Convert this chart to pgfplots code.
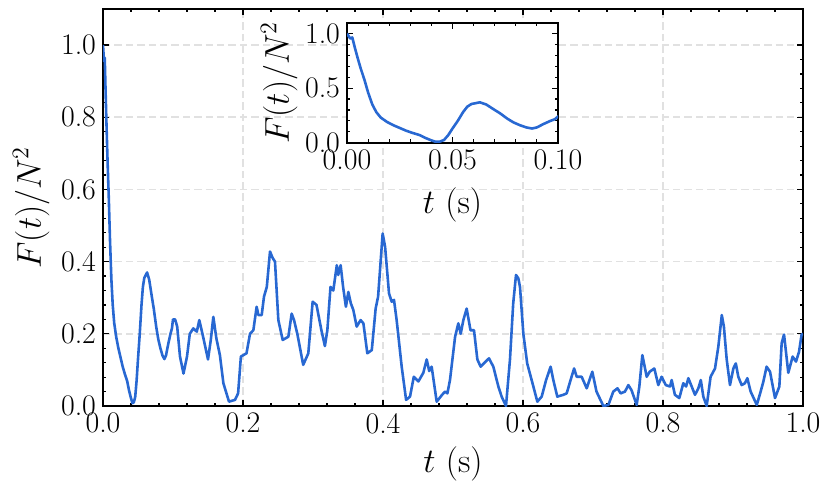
\documentclass[border=0pt]{standalone}
\usepackage{fontspec}
\usepackage{pgfplots}
\usepackage{pgfplotstable}
\pgfplotsset{compat=1.18}
\definecolor{lineblue}{RGB}{40,104,210}
\definecolor{gridgray}{RGB}{225,225,225}
\pgfplotstableread{
t y
0.0000 1.000
0.0015 0.955
0.0025 0.965
0.0036 0.880
0.0050 0.780
0.0065 0.680
0.0083 0.575
0.0100 0.460
0.0120 0.350
0.0139 0.280
0.0160 0.230
0.0190 0.190
0.0220 0.160
0.0250 0.135
0.0280 0.110
0.0310 0.090
0.0344 0.070
0.0370 0.045
0.0395 0.025
0.0420 0.008
0.0440 0.010
0.0460 0.025
0.0480 0.070
0.0500 0.130
0.0525 0.200
0.0550 0.280
0.0570 0.330
0.0590 0.355
0.0630 0.370
0.0660 0.350
0.0700 0.300
0.0725 0.270
0.0760 0.220
0.0790 0.185
0.0820 0.160
0.0850 0.140
0.0877 0.130
0.0900 0.140
0.0930 0.170
0.0964 0.200
0.0985 0.215
0.1000 0.240
0.1030 0.240
0.1060 0.220
0.1100 0.137
0.1150 0.090
0.1200 0.137
0.1240 0.200
0.1290 0.215
0.1340 0.206
0.1376 0.238
0.1430 0.192
0.1500 0.129
0.1540 0.183
0.1576 0.247
0.1620 0.187
0.1670 0.141
0.1720 0.063
0.1800 0.012
0.1886 0.017
0.1930 0.035
0.1970 0.137
0.2050 0.146
0.2100 0.200
0.2148 0.210
0.2195 0.275
0.2220 0.252
0.2267 0.252
0.2300 0.303
0.2340 0.330
0.2386 0.428
0.2424 0.410
0.2457 0.400
0.2505 0.238
0.2567 0.183
0.2648 0.192
0.2695 0.256
0.2729 0.238
0.2776 0.200
0.2860 0.114
0.2933 0.146
0.2995 0.289
0.3050 0.280
0.3120 0.210
0.3170 0.166
0.3205 0.210
0.3250 0.330
0.3290 0.320
0.3340 0.390
0.3360 0.363
0.3395 0.390
0.3430 0.330
0.3470 0.275
0.3505 0.316
0.3540 0.285
0.3576 0.266
0.3624 0.220
0.3680 0.238
0.3720 0.229
0.3776 0.146
0.3840 0.155
0.3895 0.270
0.3930 0.303
0.3995 0.478
0.4030 0.441
0.4086 0.312
0.4124 0.289
0.4157 0.294
0.4195 0.238
0.4267 0.109
0.4330 0.017
0.4386 0.026
0.4440 0.081
0.4505 0.068
0.4576 0.092
0.4624 0.129
0.4660 0.097
0.4695 0.109
0.4767 0.012
0.4840 0.030
0.4886 0.040
0.4920 0.035
0.4957 0.072
0.5030 0.192
0.5076 0.229
0.5110 0.200
0.5148 0.238
0.5195 0.270
0.5250 0.210
0.5300 0.210
0.5348 0.129
0.5395 0.109
0.5440 0.118
0.5514 0.132
0.5576 0.109
0.5648 0.054
0.5695 0.026
0.5757 0.000
0.5814 0.129
0.5860 0.284
0.5900 0.363
0.5933 0.354
0.5957 0.330
0.6005 0.200
0.6060 0.118
0.6148 0.054
0.6205 0.012
0.6267 0.026
0.6330 0.072
0.6395 0.109
0.6433 0.072
0.6490 0.026
0.6576 0.031
0.6624 0.035
0.6680 0.072
0.6730 0.104
0.6767 0.081
0.6838 0.081
0.6910 0.049
0.6990 0.095
0.7050 0.040
0.7148 0.000
0.7220 0.003
0.7290 0.040
0.7350 0.049
0.7395 0.035
0.7457 0.040
0.7505 0.058
0.7550 0.044
0.7624 0.003
0.7662 0.054
0.7705 0.141
0.7767 0.081
0.7810 0.095
0.7876 0.104
0.7933 0.058
0.7980 0.081
0.8040 0.058
0.8100 0.054
0.8124 0.072
0.8170 0.031
0.8233 0.022
0.8290 0.063
0.8330 0.054
0.8362 0.077
0.8410 0.054
0.8457 0.031
0.8505 0.049
0.8540 0.072
0.8576 0.026
0.8624 0.000
0.8680 0.081
0.8743 0.104
0.8790 0.164
0.8840 0.252
0.8870 0.220
0.8910 0.129
0.8957 0.058
0.9005 0.104
0.9040 0.118
0.9076 0.081
0.9124 0.058
0.9170 0.063
0.9205 0.077
0.9252 0.040
0.9340 0.003
0.9395 0.040
0.9433 0.067
0.9480 0.109
0.9529 0.095
0.9600 0.022
0.9662 0.054
0.9695 0.174
0.9729 0.198
0.9790 0.092
0.9852 0.137
0.9900 0.123
0.9943 0.150
0.9980 0.198
1.0000 0.200
}\datatable
\pgfplotsset{
  sciaxis/.style={
    scale only axis,
    tick align=inside,
    xtick pos=both, ytick pos=both,
    minor tick num=4,
    major tick length=3bp,
    minor tick length=1.7bp,
    every tick/.style={black, line width=0.6pt},
    axis line style={line width=0.7pt},
    tick label style={font=\fontsize{15}{17}\selectfont, /pgf/number format/assume math mode=true},
    label style={font=\fontsize{17.28}{20}\selectfont},
  }
}
\begin{document}
\begin{tikzpicture}
\begin{axis}[
  sciaxis,
  at={(0,0)}, anchor=south west,
  width=350bp, height=198.5bp,
  xmin=0, xmax=1, ymin=0, ymax=1.1,
  xtick={0,0.2,0.4,0.6,0.8,1.0},
  ytick={0,0.2,0.4,0.6,0.8,1.0},
  xticklabel style={/pgf/number format/.cd, fixed, fixed zerofill, precision=1},
  yticklabel style={/pgf/number format/.cd, fixed, fixed zerofill, precision=1},
  xmajorgrids, ymajorgrids,
  major grid style={gridgray, line width=0.8pt, dash pattern=on 3.7bp off 2bp},
  xlabel={$t$ (s)},
  ylabel={$F(t)/N^2$},
  xlabel style={yshift=0bp},
  ylabel style={yshift=-1bp},
]
\addplot[lineblue, line width=1.3pt, line join=round] table[x=t,y=y]{\datatable};
\end{axis}
\begin{axis}[
  sciaxis,
  at={(122bp,131.65bp)}, anchor=south west,
  width=105.5bp, height=60bp,
  xmin=0, xmax=0.1, ymin=0, ymax=1.1,
  xtick={0,0.05,0.1},
  ytick={0,0.5,1.0},
  xticklabel style={/pgf/number format/.cd, fixed, fixed zerofill, precision=2},
  yticklabel style={/pgf/number format/.cd, fixed, fixed zerofill, precision=1},
  axis background/.style={fill=white},
  axis line style={line width=0.9pt},
  xlabel={$t$ (s)},
  ylabel={$F(t)/N^2$},
  xlabel style={yshift=-2bp},
  ylabel style={yshift=-3bp},
]
\addplot[lineblue, line width=1.3pt, line join=round] table[x=t,y=y]{\datatable};
\end{axis}
\pgfresetboundingbox
\path[use as bounding box] (-51.5bp,-46bp) rectangle (363.5bp,203bp);
\end{tikzpicture}
\end{document}
